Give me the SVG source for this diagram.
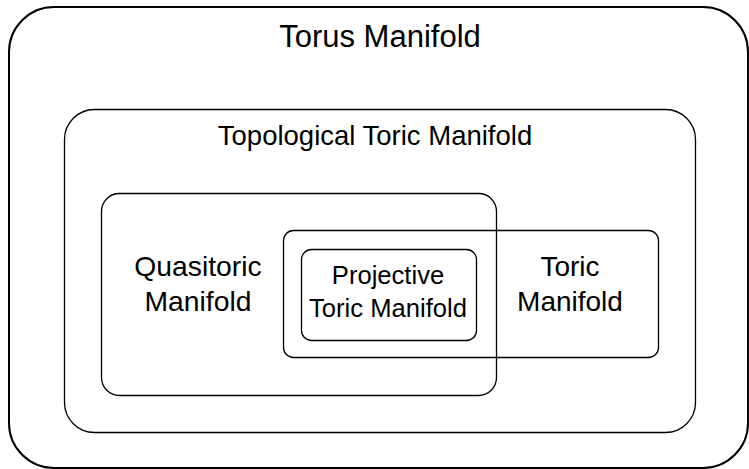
<svg xmlns="http://www.w3.org/2000/svg" width="749" height="469" viewBox="0 0 749 469">
<style>
.b{fill:none;stroke:#000;stroke-width:1.3}
text{font-family:"Liberation Sans",Arial,sans-serif;fill:#000;text-anchor:middle}
</style>
<rect width="749" height="469" fill="#fff"/>
<g id="torus"><rect x="9" y="7" width="739" height="461" rx="45" fill="none" stroke="#000" stroke-width="2"/><text x="380" y="47" font-size="31">Torus Manifold</text></g>
<g id="topological"><rect class="b" x="64.5" y="109.5" width="631" height="323" rx="30"/><text x="375" y="145" font-size="27.5">Topological Toric Manifold</text></g>
<g id="quasitoric"><rect class="b" x="101.5" y="193.5" width="395" height="202" rx="18"/><text x="198" y="276" font-size="28.3">Quasitoric</text><text x="198" y="311" font-size="28.3">Manifold</text></g>
<g id="toric"><rect class="b" x="283.5" y="230.5" width="375" height="127" rx="10"/><text x="570" y="276" font-size="28">Toric</text><text x="570" y="311" font-size="28">Manifold</text></g>
<g id="projective"><rect class="b" x="301.5" y="249.5" width="175" height="91" rx="10"/><text x="388" y="284" font-size="25.6">Projective</text><text x="388" y="317" font-size="25.6">Toric Manifold</text></g>
<g id="connectors"/>
</svg>
